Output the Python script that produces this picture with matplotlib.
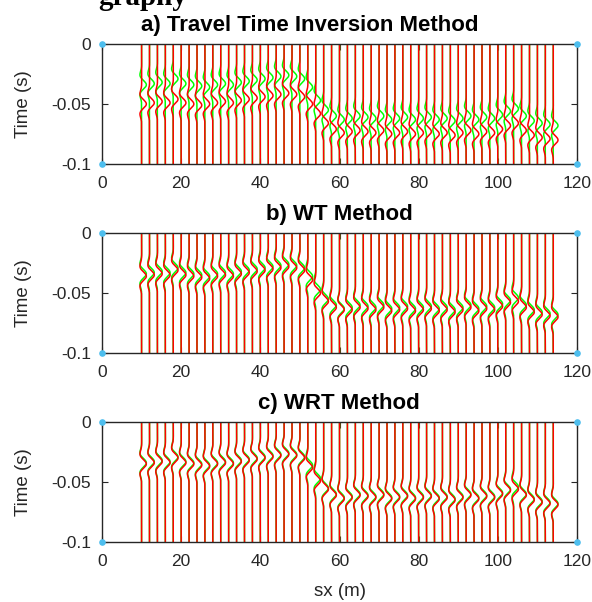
import numpy as np
import matplotlib
matplotlib.use('Agg')
import matplotlib.pyplot as plt

plt.rcParams['font.family'] = ['Liberation Sans', 'DejaVu Sans']

# source positions (m)
sx = list(range(10, 115, 2))

# observed arrival (green) - shared by all panels
t_obs = [-0.034, -0.033, -0.032, -0.033, -0.029, -0.033, -0.034, -0.035, -0.036, -0.034,
         -0.033, -0.034, -0.032, -0.031, -0.030, -0.029, -0.028, -0.027, -0.026, -0.027,
         -0.029, -0.036, -0.047, -0.055, -0.060, -0.063, -0.062, -0.060, -0.061, -0.062,
         -0.060, -0.063, -0.062, -0.061, -0.063, -0.062, -0.061, -0.063, -0.062, -0.064,
         -0.062, -0.060, -0.063, -0.061, -0.062, -0.059, -0.056, -0.054, -0.060, -0.064,
         -0.066, -0.067, -0.068]

# predicted arrivals (red) per method
t_a = [-0.050, -0.049, -0.048, -0.049, -0.046, -0.049, -0.050, -0.051, -0.050, -0.049,
       -0.048, -0.049, -0.047, -0.046, -0.045, -0.044, -0.043, -0.042, -0.041, -0.042,
       -0.044, -0.050, -0.058, -0.066, -0.071, -0.074, -0.073, -0.072, -0.073, -0.074,
       -0.072, -0.075, -0.074, -0.073, -0.075, -0.074, -0.073, -0.075, -0.074, -0.076,
       -0.074, -0.072, -0.075, -0.073, -0.074, -0.071, -0.068, -0.066, -0.072, -0.076,
       -0.078, -0.079, -0.080]
t_b = [-0.036, -0.035, -0.034, -0.035, -0.031, -0.035, -0.036, -0.037, -0.038, -0.036,
       -0.035, -0.036, -0.034, -0.033, -0.032, -0.031, -0.030, -0.029, -0.028, -0.029,
       -0.031, -0.039, -0.050, -0.057, -0.062, -0.064, -0.064, -0.062, -0.063, -0.064,
       -0.062, -0.065, -0.064, -0.063, -0.065, -0.064, -0.063, -0.065, -0.064, -0.066,
       -0.064, -0.062, -0.065, -0.063, -0.064, -0.061, -0.058, -0.057, -0.062, -0.066,
       -0.068, -0.069, -0.070]
t_c = [-0.035, -0.034, -0.033, -0.034, -0.030, -0.034, -0.035, -0.036, -0.037, -0.035,
       -0.034, -0.035, -0.033, -0.032, -0.031, -0.030, -0.029, -0.028, -0.027, -0.028,
       -0.030, -0.038, -0.049, -0.056, -0.061, -0.064, -0.063, -0.061, -0.062, -0.063,
       -0.061, -0.064, -0.063, -0.062, -0.064, -0.063, -0.062, -0.064, -0.063, -0.065,
       -0.063, -0.061, -0.064, -0.062, -0.063, -0.060, -0.057, -0.056, -0.061, -0.065,
       -0.067, -0.068, -0.069]

titles = ['a) Travel Time Inversion Method', 'b) WT Method', 'c) WRT Method']
xticks = [0, 20, 40, 60, 80, 100, 120]
yticks = [-0.1, -0.05, 0]
yticklabels = ['-0.1', '-0.05', '0']

FREQ = 48.0
SIG = 0.009
AMP = 1.2
tt = np.linspace(-0.1, 0, 500)


def wav(t0):
    d = tt - t0
    return AMP * np.exp(-(d / SIG) ** 2) * np.cos(2 * np.pi * FREQ * d)


fig = plt.figure(figsize=(5.92, 6.02), dpi=100)
fig.text(98 / 592, 1 - 5 / 602, 'graphy', fontsize=21, fontweight='bold',
         family='Liberation Serif', va='baseline', ha='left')

tops = [44, 233, 422]
title_x = [310, 339, 339]
H = 120
L, R = 102, 577
axcol = '#262626'
for k, (tp, tr) in enumerate(zip(tops, [t_a, t_b, t_c])):
    ax = fig.add_axes([L / 592, 1 - (tp + H) / 602, (R - L) / 592, H / 602])
    for x, tg, trd in zip(sx, t_obs, tr):
        ax.plot(x + wav(tg), tt, color='#00FF00', lw=1.1)
        ax.plot(x + wav(trd), tt, color='#FF0000', lw=1.1)
    ax.scatter([0, 0, 120, 120], [0, -0.1, 0, -0.1], s=14, color='#4DBEEE',
               zorder=5, clip_on=False)
    ax.set_xlim(0, 120)
    ax.set_ylim(-0.1, 0)
    ax.set_xticks(xticks)
    ax.set_yticks(yticks)
    ax.set_yticklabels(yticklabels)
    ax.tick_params(direction='in', top=True, right=True, labelsize=12.5,
                   colors=axcol, length=4)
    ax.tick_params(axis='y', pad=8)
    ax.tick_params(axis='x', pad=8.5)
    for s in ax.spines.values():
        s.set_color(axcol)
        s.set_linewidth(1.0)
    ax.set_ylabel('Time (s)', fontsize=13.5, color=axcol, labelpad=14)
    ax.text((title_x[k] - L) / (R - L), 1 + 13 / H, titles[k], transform=ax.transAxes,
            fontsize=16, fontweight='bold', ha='center', va='baseline')
    if k == 2:
        ax.set_xlabel('sx (m)', fontsize=13.5, color=axcol, labelpad=10)

fig.savefig('out.png', dpi=100)
